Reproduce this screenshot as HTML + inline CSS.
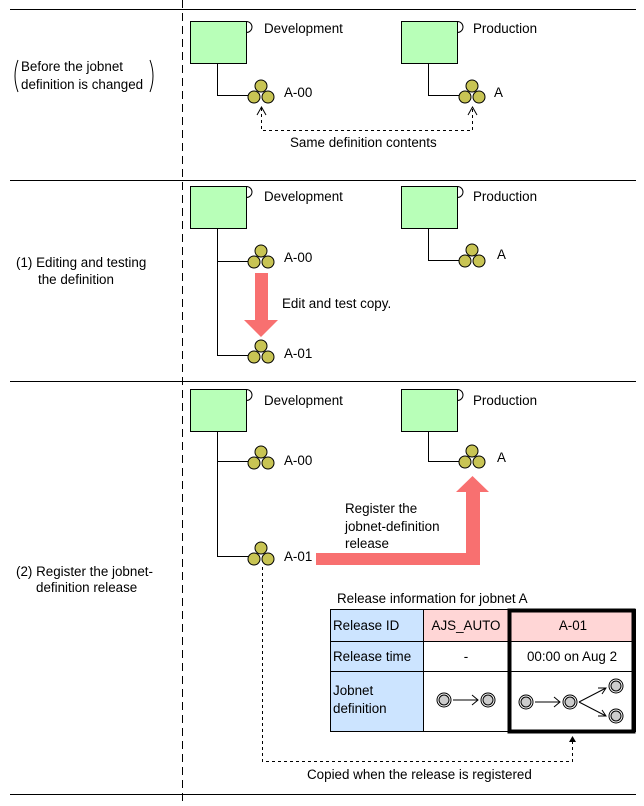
<!DOCTYPE html>
<html><head><meta charset="utf-8"><style>
html,body{margin:0;padding:0;background:#fff}
svg{display:block}
text{font-family:"Liberation Sans",sans-serif;font-size:13.4px;fill:#000}
</style></head><body>
<svg width="644" height="806" viewBox="0 0 644 806">
<defs>
<g id="ic" stroke="#000" stroke-width="1" fill="#c8c454">
<circle cx="0" cy="-7" r="6"/><circle cx="-7" cy="4" r="6"/><circle cx="7" cy="4" r="6"/>
</g>
<g id="box">
<path d="M56,0 a5,5 0 0 1 0,11" fill="#fff" stroke="#000"/>
<rect x="0" y="0" width="56" height="42" fill="#b8ffb8" stroke="#000"/>
</g>
<g id="ring"><circle r="7" fill="#fff" stroke="#000"/><circle r="5" fill="#ccc" stroke="#000"/></g>
</defs>
<g stroke="#000" stroke-width="1">
<line x1="10" y1="9.5" x2="636" y2="9.5"/>
<line x1="10" y1="180.5" x2="636" y2="180.5"/>
<line x1="10" y1="381.5" x2="636" y2="381.5"/>
<line x1="10" y1="794.5" x2="636" y2="794.5"/>
<line x1="182.5" y1="0" x2="182.5" y2="806" stroke-dasharray="8,5"/>
</g>
<!-- section 1 -->
<use href="#box" x="190.5" y="21.5"/>
<use href="#box" x="401.5" y="21.5"/>
<path d="M217.5,63 V95.5 H249 M428.5,63 V95.5 H460" fill="none" stroke="#000"/>
<use href="#ic" x="261" y="93"/><use href="#ic" x="472" y="93"/>
<text x="264" y="33">Development</text><text x="473" y="33">Production</text>
<text x="284" y="97">A-00</text><text x="494" y="97">A</text>
<path d="M261.5,108 V130.5 H472.5 V108" fill="none" stroke="#000" stroke-dasharray="3,3"/>
<path d="M257,115 L261.5,107 L266,115 M468,115 L472.5,107 L477,115" fill="none" stroke="#000"/>
<text x="290" y="147">Same definition contents</text>
<path d="M18,60 Q12,76 18,92 M150,60 Q156,76 150,92" fill="none" stroke="#000"/>
<text x="21" y="71">Before the jobnet</text><text x="21" y="89">definition is changed</text>
<!-- section 2 -->
<use href="#box" x="190.5" y="186.5"/>
<use href="#box" x="401.5" y="186.5"/>
<path d="M217.5,228 V355.5 H249 M217.5,261.5 H249 M428.5,228 V260.5 H460" fill="none" stroke="#000"/>
<use href="#ic" x="261" y="258"/><use href="#ic" x="261" y="353"/><use href="#ic" x="472" y="257"/>
<text x="264" y="201">Development</text><text x="473" y="201">Production</text>
<text x="284" y="262">A-00</text><text x="284" y="358">A-01</text><text x="497" y="259">A</text>
<path d="M255,273 H268 V320 H278 L261,337 L244,320 H255 Z" fill="#f87070"/>
<text x="282" y="308">Edit and test copy.</text>
<text x="16" y="267">(1) Editing and testing</text><text x="38" y="284">the definition</text>
<!-- section 3 -->
<use href="#box" x="190.5" y="389.5"/>
<use href="#box" x="401.5" y="389.5"/>
<path d="M217.5,431 V556.5 H249 M217.5,461.5 H249 M428.5,431 V461.5 H460" fill="none" stroke="#000"/>
<use href="#ic" x="261" y="459"/><use href="#ic" x="261" y="555"/><use href="#ic" x="472" y="458"/>
<text x="264" y="405">Development</text><text x="473" y="405">Production</text>
<text x="284" y="465">A-00</text><text x="284" y="561">A-01</text><text x="497" y="462">A</text>
<path d="M316,553 H466 V492 H456 L472.5,476 L489,492 H480 V565 H316 Z" fill="#f87070"/>
<text x="345" y="513">Register the</text><text x="345" y="531">jobnet-definition</text><text x="345" y="548">release</text>
<text x="16" y="576">(2) Register the jobnet-</text><text x="36" y="592">definition release</text>
<!-- table -->
<text x="337" y="603">Release information for jobnet A</text>
<rect x="330.5" y="609.5" width="93" height="122" fill="#cce4ff"/>
<rect x="423.5" y="609.5" width="85" height="32" fill="#ffd6d6"/>
<rect x="508.5" y="609.5" width="127" height="32" fill="#ffd6d6"/>
<g stroke="#000" fill="none">
<rect x="330.5" y="609.5" width="305" height="122"/>
<line x1="330" y1="641.5" x2="636" y2="641.5"/>
<line x1="330" y1="671.5" x2="636" y2="671.5"/>
<line x1="423.5" y1="609" x2="423.5" y2="732"/>
</g>
<rect x="509.5" y="610.5" width="124" height="121" fill="none" stroke="#000" stroke-width="4"/>
<text x="333" y="630">Release ID</text><text x="466" y="630" text-anchor="middle">AJS_AUTO</text><text x="573" y="630" text-anchor="middle">A-01</text>
<text x="333" y="661">Release time</text><text x="466" y="661" text-anchor="middle">-</text><text x="572" y="661" text-anchor="middle">00:00 on Aug 2</text>
<text x="333" y="695">Jobnet</text><text x="333" y="713">definition</text>
<use href="#ring" x="444" y="700"/><use href="#ring" x="488" y="700"/>
<use href="#ring" x="526" y="702"/><use href="#ring" x="570" y="702"/><use href="#ring" x="616" y="686"/><use href="#ring" x="616" y="716"/>
<g stroke="#000" fill="none">
<path d="M453,700 H478 M472,695 L478,700 L472,705"/>
<path d="M535,702 H560 M554,697 L560,702 L554,707"/>
<path d="M579,702 L606,688 M598,688 L606,688 L602,694 M579,702 L606,716 M598,716 L606,716 L602,710"/>
</g>
<path d="M262.5,567 V761.5 H572.5 V742" fill="none" stroke="#000" stroke-dasharray="3,3"/>
<path d="M569,742 L572.5,736 L576,742 Z" fill="#000"/>
<text x="307" y="779">Copied when the release is registered</text>
</svg>
</body></html>
